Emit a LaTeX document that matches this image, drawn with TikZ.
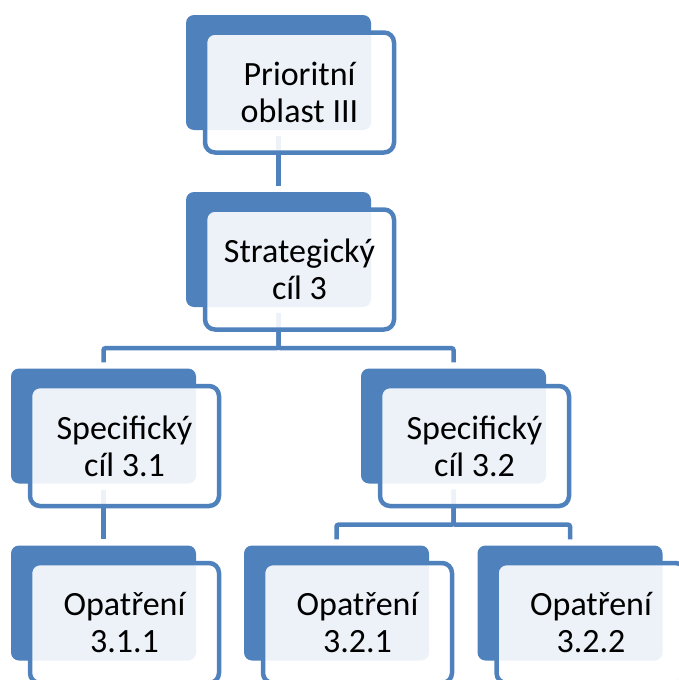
\documentclass[tikz,border=0pt]{standalone}
\usepackage{fontspec}
\setmainfont{Carlito}
\usepackage{tikz}
\usetikzlibrary{backgrounds}

\definecolor{ablue}{HTML}{4F81BD}

\tikzset{
	back/.style={rectangle, rounded corners=8pt, fill=ablue, minimum width=185pt, minimum height=115pt, inner sep=0pt},
	front/.style={rectangle, rounded corners=10pt, draw=ablue, line width=4.5pt, fill=white, fill opacity=0.9, text opacity=1, minimum width=189pt, minimum height=120pt, inner sep=0pt, align=center, font=\fontsize{34}{37}\selectfont},
	link/.style={draw=ablue, line width=4.5pt, rounded corners=2pt, shorten <=6pt, shorten >=6pt}
}

\begin{document}
\begin{tikzpicture}[x=1pt, y=-1pt]
	\useasboundingbox (0,0) rectangle (678,680);

	\node[back] (po)   at (278.5, 72.5)  {};
	\node[back] (sc)   at (278.5, 249.5) {};
	\node[back] (sc1)  at (103.5, 426)   {};
	\node[back] (sc2)  at (453.5, 426)   {};
	\node[back] (op11) at (103.5, 603)   {};
	\node[back] (op21) at (336.5, 603)   {};
	\node[back] (op22) at (570, 603)     {};

	\node[front] (pot)   at (299.5, 92.5)  {Prioritní\\oblast III};
	\node[front] (sct)   at (299.5, 269.5) {Strategický\\cíl 3};
	\node[front] (sc1t)  at (124.5, 446)   {Specifický\\cíl 3.1};
	\node[front] (sc2t)  at (474.5, 446)   {Specifický\\cíl 3.2};
	\node[front] (op11t) at (124.5, 623)   {Opatření\\3.1.1};
	\node[front] (op21t) at (357.5, 623)   {Opatření\\3.2.1};
	\node[front] (op22t) at (591, 623)     {Opatření\\3.2.2};

	\begin{pgfonlayer}{background}
	\path[link] (po.south) -- (sc.north);
	\path[link] (sc.south) -- ++(0,41) -| (sc1.north);
	\path[link] (sc.south) -- ++(0,41) -| (sc2.north);
	\path[link] (sc1.south) -- (op11.north);
	\path[link] (sc2.south) -- ++(0,41) -| (op21.north);
	\path[link] (sc2.south) -- ++(0,41) -| (op22.north);
	\end{pgfonlayer}

\end{tikzpicture}
\end{document}
